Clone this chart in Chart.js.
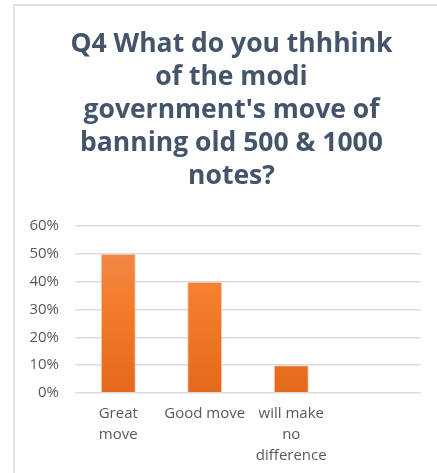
<!DOCTYPE html>
<html>
<head>
<meta charset="utf-8">
<script src="https://cdn.jsdelivr.net/npm/chart.js@4.4.0/dist/chart.umd.min.js"></script>
<style>
  body { margin: 0; background: #fff; }
  .frame {
    position: absolute; left: 13px; top: 4px; width: 440px; height: 480px;
    border-left: 2px solid #dde3ea; border-top: 2px solid #dde3ea;
  }
  #chart { position: absolute; left: 0; top: 0; }
</style>
</head>
<body>
<div class="frame"></div>
<canvas id="chart" width="437" height="473"></canvas>
<script>
// data
const titleLines = ['Q4 What do you thhhink', 'of the modi', "government's move of", 'banning old 500 & 1000', 'notes?'];
const categories = [['Great', 'move'], 'Good move', ['will make', 'no', 'difference'], ''];
const values = [50, 40, 10, null];
const yTicks = [0, 10, 20, 30, 40, 50, 60];

const textGray = '#595959';

// orange gradient, light at top, dark at bottom
function barFill(context) {
  const chart = context.chart;
  const area = chart.chartArea;
  if (!area) return '#f37c2a';
  const g = chart.ctx.createLinearGradient(0, area.top, 0, area.bottom);
  g.addColorStop(0, '#f08c58');
  g.addColorStop(0.45, '#f47d2b');
  g.addColorStop(1, '#e4691a');
  return g;
}

const ctx = document.getElementById('chart').getContext('2d');
const myChart = new Chart(ctx, {
  type: 'bar',
  data: {
    labels: categories,
    datasets: [{
      data: values,
      backgroundColor: barFill,
      borderColor: 'rgba(250, 205, 175, 0.9)',
      borderWidth: 1,
      barPercentage: 0.405,
      categoryPercentage: 1
    }]
  },
  options: {
    responsive: false,
    animation: false,
    layout: { padding: { left: 28, right: 2, top: 12, bottom: -3 } },
    plugins: {
      legend: { display: false },
      tooltip: { enabled: false },
      title: {
        display: true,
        text: titleLines,
        color: '#44546a',
        font: { family: 'Open Sans', size: 26.5, weight: 'bold', lineHeight: '33px' },
        padding: { top: 16, bottom: 33 }
      }
    },
    scales: {
      x: {
        grid: { display: false, drawTicks: false },
        border: { display: false },
        ticks: {
          color: textGray,
          font: { family: 'Open Sans', size: 15, lineHeight: '21px' },
          padding: 10,
          maxRotation: 0,
          autoSkip: false
        }
      },
      y: {
        min: 0,
        max: 60,
        afterBuildTicks: (scale) => { scale.ticks = yTicks.map(v => ({ value: v })); },
        afterFit: (scale) => { scale.width = 47; },
        grid: { color: '#d9dee5', lineWidth: 1.5, drawTicks: false },
        border: { display: false },
        ticks: {
          color: textGray,
          font: { family: 'Open Sans', size: 15 },
          padding: 16,
          callback: (v) => v + '%'
        }
      },
      // empty right axis, only keeps the plot off the right edge
      yRight: {
        position: 'right',
        display: true,
        grid: { display: false, drawTicks: false },
        border: { display: false },
        ticks: { display: false },
        afterFit: (scale) => { scale.width = 14; }
      }
    }
  }
});
</script>
</body>
</html>
